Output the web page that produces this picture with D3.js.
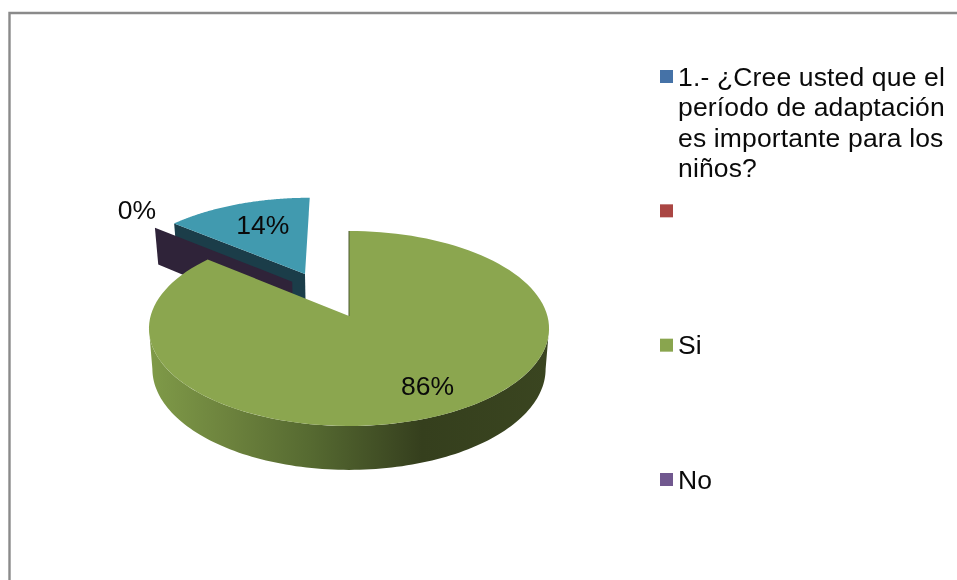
<!DOCTYPE html>
<html><head><meta charset="utf-8">
<script src="https://cdn.jsdelivr.net/npm/d3@7"></script>
<style>html,body{margin:0;background:#fff;overflow:hidden}svg{display:block;filter:blur(0.35px)}text{font-family:"Liberation Sans",Arial,sans-serif;fill:#0a0a0a}</style>
</head><body>
<script>
const legendLabels = [["1.- ¿Cree usted que el","período de adaptación","es importante para los","niños?"],[""],["Si"],["No"]];
const legendColors = ["#4572A7","#AA4643","#89A54E","#71588F"];
const sliceNames = ["Si","No","Resto"];
const sliceValues = [86,0,14];
const sliceLabels = ["86%","0%","14%"];

const W=957,H=580;
const svg=d3.select("body").append("svg").attr("width",W).attr("height",H);

// frame (runs off the right and bottom of the picture)
svg.append("path").attr("d",`M9.5,${H}V13H${W}`).attr("fill","none").attr("stroke","#8a8a8a").attr("stroke-width",2.4);

// pie angles, clockwise from 12 o'clock
const arcs=d3.pie().value(d=>d).sort(null)(sliceValues);

// perspective projection of the pie plane
const k=0.128;
const topPlane={ax:349,ay:316,c:198.4,b:95.9};
const botPlane={ax:349,ay:356,c:195,b:99.3};
const proj=(pl,u,v)=>{const w=1+k*v;return [pl.ax+pl.c*u/w,pl.ay-pl.b*v/w];};
const line=d3.line();
const angles=(a0,a1)=>d3.range(0,121).map(i=>a0+(a1-a0)*i/120);
const rim=(pl,off,a0,a1)=>angles(a0,a1).map(a=>proj(pl,off[0]+Math.sin(a),off[1]+Math.cos(a)));
const wedge=(pl,off,a0,a1)=>[proj(pl,off[0],off[1]),...rim(pl,off,a0,a1)];
const radial=(off,a,r)=>[off[0]+r*Math.sin(a),off[1]+r*Math.cos(a)];

const [si,no,resto]=arcs;
const offTeal=[-0.235,0.464];
const offPurple=[-0.30,0.375];
const offGreen=[0,0];

// teal slice
const tealA0=resto.startAngle, tealA1=resto.endAngle;
svg.append("path").attr("fill","#1b3d49").attr("d",line([
  proj(topPlane,...offTeal),proj(botPlane,...offTeal),
  proj(botPlane,...radial(offTeal,tealA0,1)),proj(topPlane,...radial(offTeal,tealA0,1))])+"Z");
svg.append("path").attr("fill","#419aaf").attr("d",line(wedge(topPlane,offTeal,tealA0,tealA1))+"Z");

// purple zero slice: only its cut wall can be seen
svg.append("path").attr("fill","#2f2339").attr("d",line([
  proj(topPlane,...offPurple),proj(botPlane,...offPurple),
  proj(botPlane,...radial(offPurple,no.startAngle,1.05)),proj(topPlane,...radial(offPurple,no.startAngle,1.05))])+"Z");

// green side wall, between the widest points of the two rims
const grad=svg.append("defs").append("linearGradient").attr("id","side")
  .attr("gradientUnits","userSpaceOnUse").attr("x1",150).attr("x2",550).attr("y1",0).attr("y2",0);
[[0,"#7f9a48"],[0.2,"#6c823d"],[0.4,"#566a31"],[0.62,"#3c4822"],[0.68,"#353f1d"],[1,"#3a4520"]]
  .forEach(([o,c])=>grad.append("stop").attr("offset",o).attr("stop-color",c));
const deg=Math.PI/180;
svg.append("path").attr("fill","url(#side)").attr("d",
  line([...rim(topPlane,offGreen,97.35*deg,262.65*deg),...rim(botPlane,offGreen,97.35*deg,262.65*deg).reverse()])+"Z");

// green top face
svg.append("path").attr("fill","#8ba64f").attr("d",line(wedge(topPlane,offGreen,si.startAngle,si.endAngle))+"Z");
svg.append("path").attr("fill","none").attr("stroke","#4d5a30").attr("stroke-width",1)
  .attr("d",line([proj(topPlane,0,1),proj(topPlane,0,0)]));

// data labels
const lab=(p,t,dx,dy)=>svg.append("text").attr("x",p[0]+dx).attr("y",p[1]+dy)
  .attr("text-anchor","middle").attr("dominant-baseline","central").attr("font-size",26.5).text(t);
lab(proj(topPlane,...radial(offGreen,(si.startAngle+si.endAngle)/2,0.8)),sliceLabels[0],4,-7);
lab(proj(topPlane,...radial(offPurple,no.startAngle,1.15)),sliceLabels[1],-6,-13);
lab(proj(topPlane,...radial(offTeal,(tealA0+tealA1)/2,0.6)),sliceLabels[2],0,-5);

// legend
const legendY=d3.scalePoint().domain(d3.range(legendColors.length)).range([76.5,479.5]);
const lineH=30.6;
legendLabels.forEach((lines,i)=>{
  const y=legendY(i);
  svg.append("rect").attr("x",660).attr("y",y-6.5).attr("width",13).attr("height",13).attr("fill",legendColors[i]);
  lines.forEach((t,j)=>svg.append("text").attr("x",678).attr("y",y+9+j*lineH)
    .attr("font-size",26.5).attr("letter-spacing",0.15).text(t));
});
</script>
</body></html>
